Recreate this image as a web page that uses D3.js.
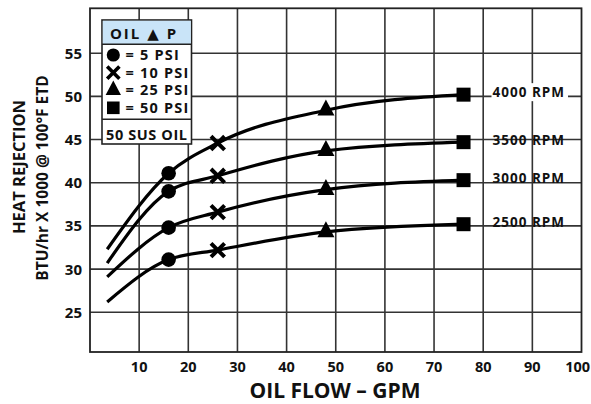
<!DOCTYPE html>
<html><head><meta charset="utf-8">
<script src="https://cdn.jsdelivr.net/npm/d3@7"></script>
<style>
body{margin:0;background:#fff}
svg{display:block}
text{font-family:"Open Sans","DejaVu Sans",sans-serif;font-weight:700;fill:#111}
</style>
</head><body>
<svg id="c" width="591" height="404"></svg>
<script>
// ---- data ----
const rpmLabels = ["4000 RPM", "3500 RPM", "3000 RPM", "2500 RPM"];
const flowGPM = [3.5, 16, 26, 48, 76];            // curve start, 5, 10, 25, 50 PSI points
const heat4000 = [32.3, 41.1, 44.6, 48.4, 50.2];
const heat3500 = [30.7, 39.0, 40.8, 43.7, 44.7];
const heat3000 = [29.1, 34.8, 36.6, 39.2, 40.3];
const heat2500 = [26.2, 31.1, 32.2, 34.3, 35.2];
const markerTypes = [null, "circle", "cross", "triangle", "square"];
const legendTitle = "OIL \u25B2 P";
const legendLabels = ["= 5 PSI", "= 10 PSI", "= 25 PSI", "= 50 PSI"];
const legendNote = "50 SUS OIL";
const xTicks = [10, 20, 30, 40, 50, 60, 70, 80, 90, 100];
const yTicks = [25, 30, 35, 40, 45, 50, 55];
const xTitle = "OIL FLOW \u2013 GPM";
const yTitle1 = "HEAT REJECTION";
const yTitle2 = "BTU/hr X 1000 @ 100\u00B0F ETD";

const series = [heat4000, heat3500, heat3000, heat2500].map((vals, i) => ({
  label: rpmLabels[i],
  pts: vals.map((v, j) => ({x: flowGPM[j], y: v, m: markerTypes[j]}))
}));

// ---- scales ----
const W = 591;
const x = d3.scaleLinear().domain([0, 100]).range([90, 581.5]);
const y = d3.scaleLinear().domain([20.4, 60.2]).range([352, 8.3]);

const svg = d3.select("#c");

// grid
const grid = svg.append("g").attr("stroke", "#333").attr("stroke-width", 1.6);
grid.selectAll("line.v").data(xTicks.slice(0, -1)).join("line")
  .attr("x1", d => x(d)).attr("x2", d => x(d))
  .attr("y1", y(60.2)).attr("y2", y(20.4));
grid.selectAll("line.h").data(yTicks).join("line")
  .attr("y1", d => y(d)).attr("y2", d => y(d))
  .attr("x1", x(0)).attr("x2", x(100));

// frame
svg.append("rect")
  .attr("x", x(0)).attr("y", y(60.2))
  .attr("width", x(100) - x(0)).attr("height", y(20.4) - y(60.2))
  .attr("fill", "none").attr("stroke", "#222").attr("stroke-width", 1.8);

// tick labels
svg.append("g").selectAll("text").data(xTicks).join("text")
  .attr("y", 372)
  .attr("text-anchor", "middle").attr("font-size", 14.5)
  .text(d => d)
  .each(function(d) {
    const w = this.getComputedTextLength();
    this.setAttribute("x", Math.min(x(d), W - 1 - w / 2));
  });
svg.append("g").selectAll("text").data(yTicks).join("text")
  .attr("x", 82).attr("y", d => y(d) + 5.5)
  .attr("text-anchor", "end").attr("font-size", 15)
  .text(d => d);

// titles
svg.append("text").attr("x", 335).attr("y", 398)
  .attr("text-anchor", "middle").attr("font-size", 21).text(xTitle);
svg.append("text").attr("transform", "translate(25,167) rotate(-90)")
  .attr("text-anchor", "middle").attr("font-size", 16.5).text(yTitle1);
svg.append("text").attr("transform", "translate(48,178) rotate(-90)")
  .attr("text-anchor", "middle").attr("font-size", 15.5).text(yTitle2);

// curves
const line = d3.line().x(d => x(d.x)).y(d => y(d.y)).curve(d3.curveMonotoneX);
svg.append("g").selectAll("path").data(series).join("path")
  .attr("d", d => line(d.pts))
  .attr("fill", "none").attr("stroke", "#000").attr("stroke-width", 3.2);

// markers
function drawMarker(g, type, s) {
  if (type === "circle") {
    g.append("circle").attr("r", 7.3 * s).attr("fill", "#000");
  } else if (type === "cross") {
    const a = 6.8 * s;
    g.append("path").attr("d", `M${-a},${-a}L${a},${a}M${-a},${a}L${a},${-a}`)
      .attr("stroke", "#000").attr("stroke-width", 4 * s).attr("fill", "none");
  } else if (type === "triangle") {
    g.append("path").attr("d", `M0,${-10.7 * s}L${8.5 * s},${5.3 * s}L${-8.5 * s},${5.3 * s}Z`)
      .attr("fill", "#000");
  } else if (type === "square") {
    const a = 7 * s;
    g.append("rect").attr("x", -a).attr("y", -a).attr("width", 2 * a).attr("height", 2 * a)
      .attr("fill", "#000");
  }
}
series.forEach(sr => {
  sr.pts.filter(p => p.m).forEach(p => {
    const g = svg.append("g").attr("transform", `translate(${x(p.x)},${y(p.y)})`);
    drawMarker(g, p.m, 1);
  });
});

// right-side RPM labels
series.forEach((sr, i) => {
  const last = sr.pts[sr.pts.length - 1];
  const ty = y(last.y) + 2.5;
  const g = svg.append("g");
  const bg = g.append("rect").attr("fill", i === 0 ? "#fff" : "none");
  const t = g.append("text").attr("x", 492.5).attr("y", ty)
    .attr("font-size", 13.5).attr("letter-spacing", 1).text(sr.label);
  if (i === 0) {
    const bb = t.node().getBBox();
    bg.attr("x", bb.x - 1).attr("y", bb.y).attr("width", bb.width + 4).attr("height", bb.height);
  }
});

// legend
const L = svg.append("g");
L.append("rect").attr("x", 102).attr("y", 20).attr("width", 89.5).attr("height", 124)
  .attr("fill", "#fff").attr("stroke", "#222").attr("stroke-width", 1.6);
L.append("rect").attr("x", 102.8).attr("y", 20.8).attr("width", 88).attr("height", 23.5)
  .attr("fill", "#c9e4f8");
L.append("line").attr("x1", 102).attr("x2", 191.5).attr("y1", 44.3).attr("y2", 44.3)
  .attr("stroke", "#222").attr("stroke-width", 1.6);
L.append("line").attr("x1", 102).attr("x2", 191.5).attr("y1", 119.3).attr("y2", 119.3)
  .attr("stroke", "#222").attr("stroke-width", 1.6);
L.append("text").attr("x", 144).attr("y", 38.5).attr("text-anchor", "middle")
  .attr("font-size", 15).attr("letter-spacing", 2).text(legendTitle);
legendLabels.forEach((lab, i) => {
  const cy = 55 + i * 17.6;
  const g = L.append("g").attr("transform", `translate(113.3,${cy})`);
  drawMarker(g, markerTypes[i + 1], 0.9);
  L.append("text").attr("x", 125.5).attr("y", cy + 5.2).attr("font-size", 14.5)
    .attr("letter-spacing", 1.2).text(lab);
});
L.append("text").attr("x", 106).attr("y", 139.5).attr("font-size", 14.5)
  .attr("letter-spacing", 0.6).text(legendNote);
</script>
</body></html>
